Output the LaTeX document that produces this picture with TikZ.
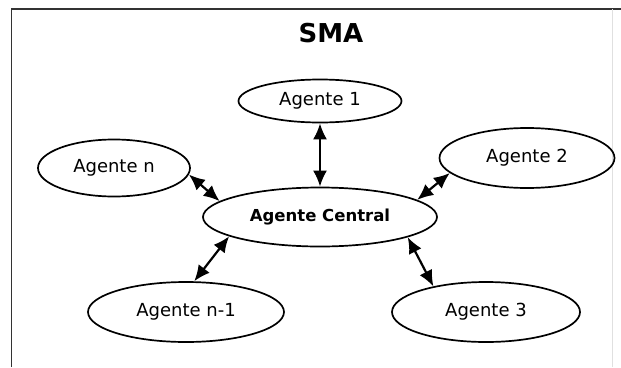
\documentclass[tikz,border=0pt]{standalone}
\usepackage{fontspec}
\setmainfont{DejaVu Sans}
\usetikzlibrary{shapes.geometric,arrows.meta}

\begin{document}
\begin{tikzpicture}[x=1pt, y=-1pt,
    agente/.style={ellipse, draw=black, line width=1.7pt, font=\fontsize{18}{21}\selectfont, inner sep=0pt},
    link/.style={draw=black, line width=2.2pt, {Latex[length=16pt,width=14pt]}-{Latex[length=16pt,width=14pt]}}]
    \useasboundingbox (0,0) rectangle (621,367);
    \draw[line width=1.6pt, black!80] (11.5,367) -- (11.5,9) -- (621,9);
    \draw[line width=0.6pt, black!12] (612,9) -- (612,367);

    \node[font=\bfseries\fontsize{26}{30}\selectfont] (titulo) at (331,33){SMA};

    \node[agente, minimum width=163pt, minimum height=43pt] (a1) at (320,101){Agente 1};
    \node[agente, minimum width=152pt, minimum height=57pt] (an) at (114,168){Agente n};
    \node[agente, minimum width=175pt, minimum height=60pt] (a2) at (527,158){Agente 2};
    \node[agente, minimum width=234pt, minimum height=59pt, font=\bfseries\fontsize{16.5}{20}\selectfont] (c) at (320,217){Agente Central};
    \node[agente, minimum width=196pt, minimum height=60pt] (an1) at (186,312){Agente n-1};
    \node[agente, minimum width=188pt, minimum height=60pt] (a3) at (486,312){Agente 3};

    \path[link] (a1.south) -- (c.north);
    \path[link] (an.-5) -- (c.171);
    \path[link] (a2.191) -- (c.10);
    \path[link] (c.192) -- (an1.75);
    \path[link] (c.-13) -- (a3.154);
\end{tikzpicture}
\end{document}
